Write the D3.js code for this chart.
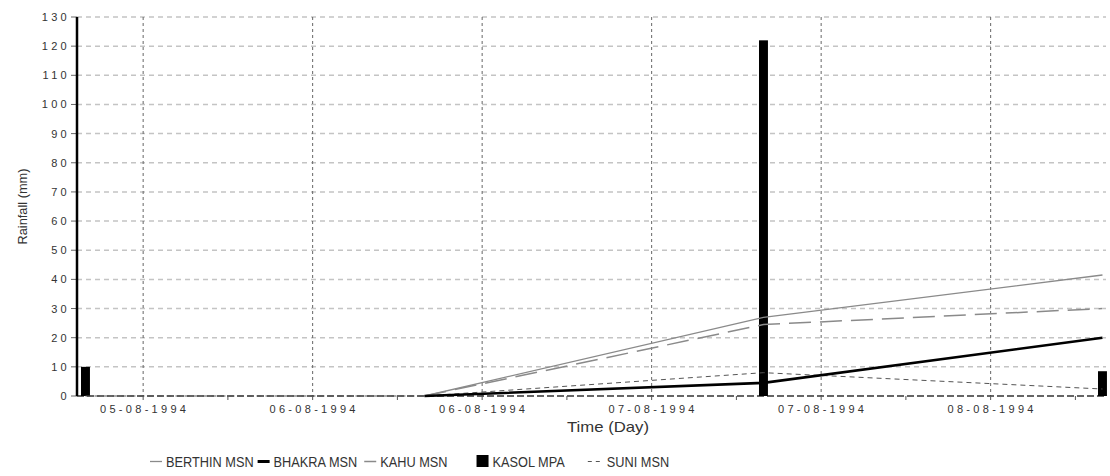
<!DOCTYPE html>
<html>
<head>
<meta charset="utf-8">
<script src="https://cdn.jsdelivr.net/npm/d3@7"></script>
<style>
  body { margin: 0; background: #fff; }
  svg { display: block; font-family: "Liberation Sans", Arial, sans-serif; }
  .tick-label { font-size: 11px; fill: #333; letter-spacing: 3.3px; }
</style>
</head>
<body>
<svg id="chart" width="1110" height="476"></svg>
<script>
// Observation times (daily readings)
const times = ['1994-08-05T07:55', '1994-08-06T07:55', '1994-08-07T07:55', '1994-08-08T07:55'];
const berthin = [null, 0, 27, 41.5];
const bhakra = [null, 0, 4.5, 20];
const kahu = [null, 0, 24.5, 30];
const kasol = [10, 0, 122, 8.5];
const suni = [0, 0, 8, 2.4];

const yTicks = d3.range(0, 131, 10);
const legendItems = ['BERTHIN MSN', 'BHAKRA MSN', 'KAHU MSN', 'KASOL MPA', 'SUNI MSN'];

const parse = d3.timeParse('%Y-%m-%dT%H:%M');
const dates = times.map(parse);

const margin = { left: 77, right: 4, top: 17, bottom: 80 };
const width = 1110, height = 476;

const svg = d3.select('#chart');

const x = d3.scaleTime()
  .domain([parse('1994-08-05T07:19'), parse('1994-08-08T08:10')])
  .range([margin.left, width - margin.right]);

const y = d3.scaleLinear()
  .domain([0, 130])
  .range([height - margin.bottom, margin.top]);

// Horizontal grid
svg.append('g')
  .selectAll('line')
  .data(yTicks.filter(d => d > 0))
  .join('line')
  .attr('x1', margin.left).attr('x2', width - margin.right)
  .attr('y1', d => y(d)).attr('y2', d => y(d))
  .attr('stroke', '#c4c4c4')
  .attr('stroke-width', 1.5)
  .attr('stroke-dasharray', '5,4');

// Vertical grid every 12 hours
const gridTimes = d3.timeHour.every(12).range(x.domain()[0], x.domain()[1]);
svg.append('g')
  .selectAll('line')
  .data(gridTimes)
  .join('line')
  .attr('x1', d => x(d)).attr('x2', d => x(d))
  .attr('y1', margin.top).attr('y2', y(0))
  .attr('stroke', '#666')
  .attr('stroke-width', 1)
  .attr('stroke-dasharray', '3,3');

// X axis: dashed base line, minor ticks every 6 h, labels every 12 h
const xAxis = svg.append('g').attr('transform', `translate(0,${y(0)})`);
xAxis.append('line')
  .attr('x1', margin.left).attr('x2', width - margin.right)
  .attr('stroke', '#333')
  .attr('stroke-width', 1.5)
  .attr('stroke-dasharray', '7,3');

xAxis.selectAll('.minor')
  .data(d3.timeHour.every(6).range(x.domain()[0], x.domain()[1]))
  .join('line')
  .attr('class', 'minor')
  .attr('x1', d => x(d)).attr('x2', d => x(d))
  .attr('y1', 0).attr('y2', 4)
  .attr('stroke', '#555');

const fmt = d3.timeFormat('%d-%m-%Y');
xAxis.selectAll('.tick-label')
  .data(gridTimes)
  .join('text')
  .attr('class', 'tick-label')
  .attr('x', d => x(d) + 1.5)
  .attr('y', 17)
  .attr('text-anchor', 'middle')
  .text(d => fmt(d));

// Y axis
const yAxis = svg.append('g');
yAxis.selectAll('.ytick')
  .data(yTicks)
  .join('line')
  .attr('class', 'ytick')
  .attr('x1', margin.left - 6).attr('x2', margin.left)
  .attr('y1', d => y(d)).attr('y2', d => y(d))
  .attr('stroke', '#666');

yAxis.selectAll('.tick-label')
  .data(yTicks)
  .join('text')
  .attr('class', 'tick-label')
  .attr('x', margin.left - 7)
  .attr('y', d => y(d) + 4)
  .attr('text-anchor', 'end')
  .text(d => d);

// Bars (KASOL MPA)
const barHalf = (x(d3.timeMinute.offset(dates[0], 19)) - x(dates[0]));
svg.append('g')
  .selectAll('rect')
  .data(dates.map((d, i) => ({ date: d, value: kasol[i] })).filter(d => d.value > 0))
  .join('rect')
  .attr('x', d => x(d.date) - barHalf)
  .attr('width', barHalf * 2)
  .attr('y', d => y(d.value))
  .attr('height', d => y(0) - y(d.value))
  .attr('fill', '#000');

// Lines
const lineGen = d3.line()
  .defined(d => d.value != null)
  .x(d => x(d.date))
  .y(d => y(d.value));

const series = [
  { values: suni, stroke: '#555', width: 1, dash: '5,4' },
  { values: kahu, stroke: '#8a8a8a', width: 1.5, dash: '22,9' },
  { values: berthin, stroke: '#8a8a8a', width: 1.3, dash: null },
  { values: bhakra, stroke: '#000', width: 2.6, dash: null }
];

svg.append('g')
  .selectAll('path')
  .data(series)
  .join('path')
  .attr('fill', 'none')
  .attr('stroke', d => d.stroke)
  .attr('stroke-width', d => d.width)
  .attr('stroke-dasharray', d => d.dash)
  .attr('d', d => lineGen(dates.map((t, i) => ({ date: t, value: d.values[i] }))));

// Y axis line on top
svg.append('line')
  .attr('x1', margin.left).attr('x2', margin.left)
  .attr('y1', margin.top).attr('y2', y(0))
  .attr('stroke', '#000')
  .attr('stroke-width', 2.5);

// Axis titles
svg.append('text')
  .attr('transform', `translate(27,${(y(0) + y(130)) / 2}) rotate(-90)`)
  .attr('text-anchor', 'middle')
  .attr('font-size', 13)
  .attr('fill', '#333')
  .attr('textLength', 76)
  .attr('lengthAdjust', 'spacingAndGlyphs')
  .text('Rainfall (mm)');

svg.append('text')
  .attr('x', 608)
  .attr('y', 432)
  .attr('text-anchor', 'middle')
  .attr('font-size', 15)
  .attr('fill', '#333')
  .attr('textLength', 82)
  .attr('lengthAdjust', 'spacingAndGlyphs')
  .text('Time (Day)');

// Legend, laid out left to right
const legend = svg.append('g').attr('transform', 'translate(0,467)');
const legendSymbols = [
  { type: 'line', stroke: '#8a8a8a', width: 1.3, dash: null, len: 12, gap: 1 },
  { type: 'line', stroke: '#000', width: 3, dash: null, len: 12, gap: 4 },
  { type: 'line', stroke: '#8a8a8a', width: 1.5, dash: null, len: 12, gap: 26 },
  { type: 'rect', gap: 20 },
  { type: 'line', stroke: '#555', width: 1, dash: '4,4', len: 15, gap: 0 }
];

let cursor = 150;
legendItems.forEach((name, i) => {
  const g = legend.append('g').attr('transform', `translate(${cursor},0)`);
  const s = legendSymbols[i];
  let offset;
  if (s.type === 'rect') {
    g.append('rect').attr('x', 0).attr('y', -12).attr('width', 12).attr('height', 12).attr('fill', '#000');
    offset = 16;
  } else {
    g.append('line')
      .attr('x1', 0).attr('x2', s.len)
      .attr('y1', -5.5).attr('y2', -5.5)
      .attr('stroke', s.stroke)
      .attr('stroke-width', s.width)
      .attr('stroke-dasharray', s.dash);
    offset = s.len + 4;
  }
  const t = g.append('text')
    .attr('x', offset)
    .attr('y', 0)
    .attr('font-size', 15)
    .attr('fill', '#333')
    .text(name);
  const natural = t.node().getComputedTextLength();
  const w = natural * 0.85;
  t.attr('textLength', w).attr('lengthAdjust', 'spacingAndGlyphs');
  cursor += offset + w + 3 + s.gap;
});
</script>
</body>
</html>
